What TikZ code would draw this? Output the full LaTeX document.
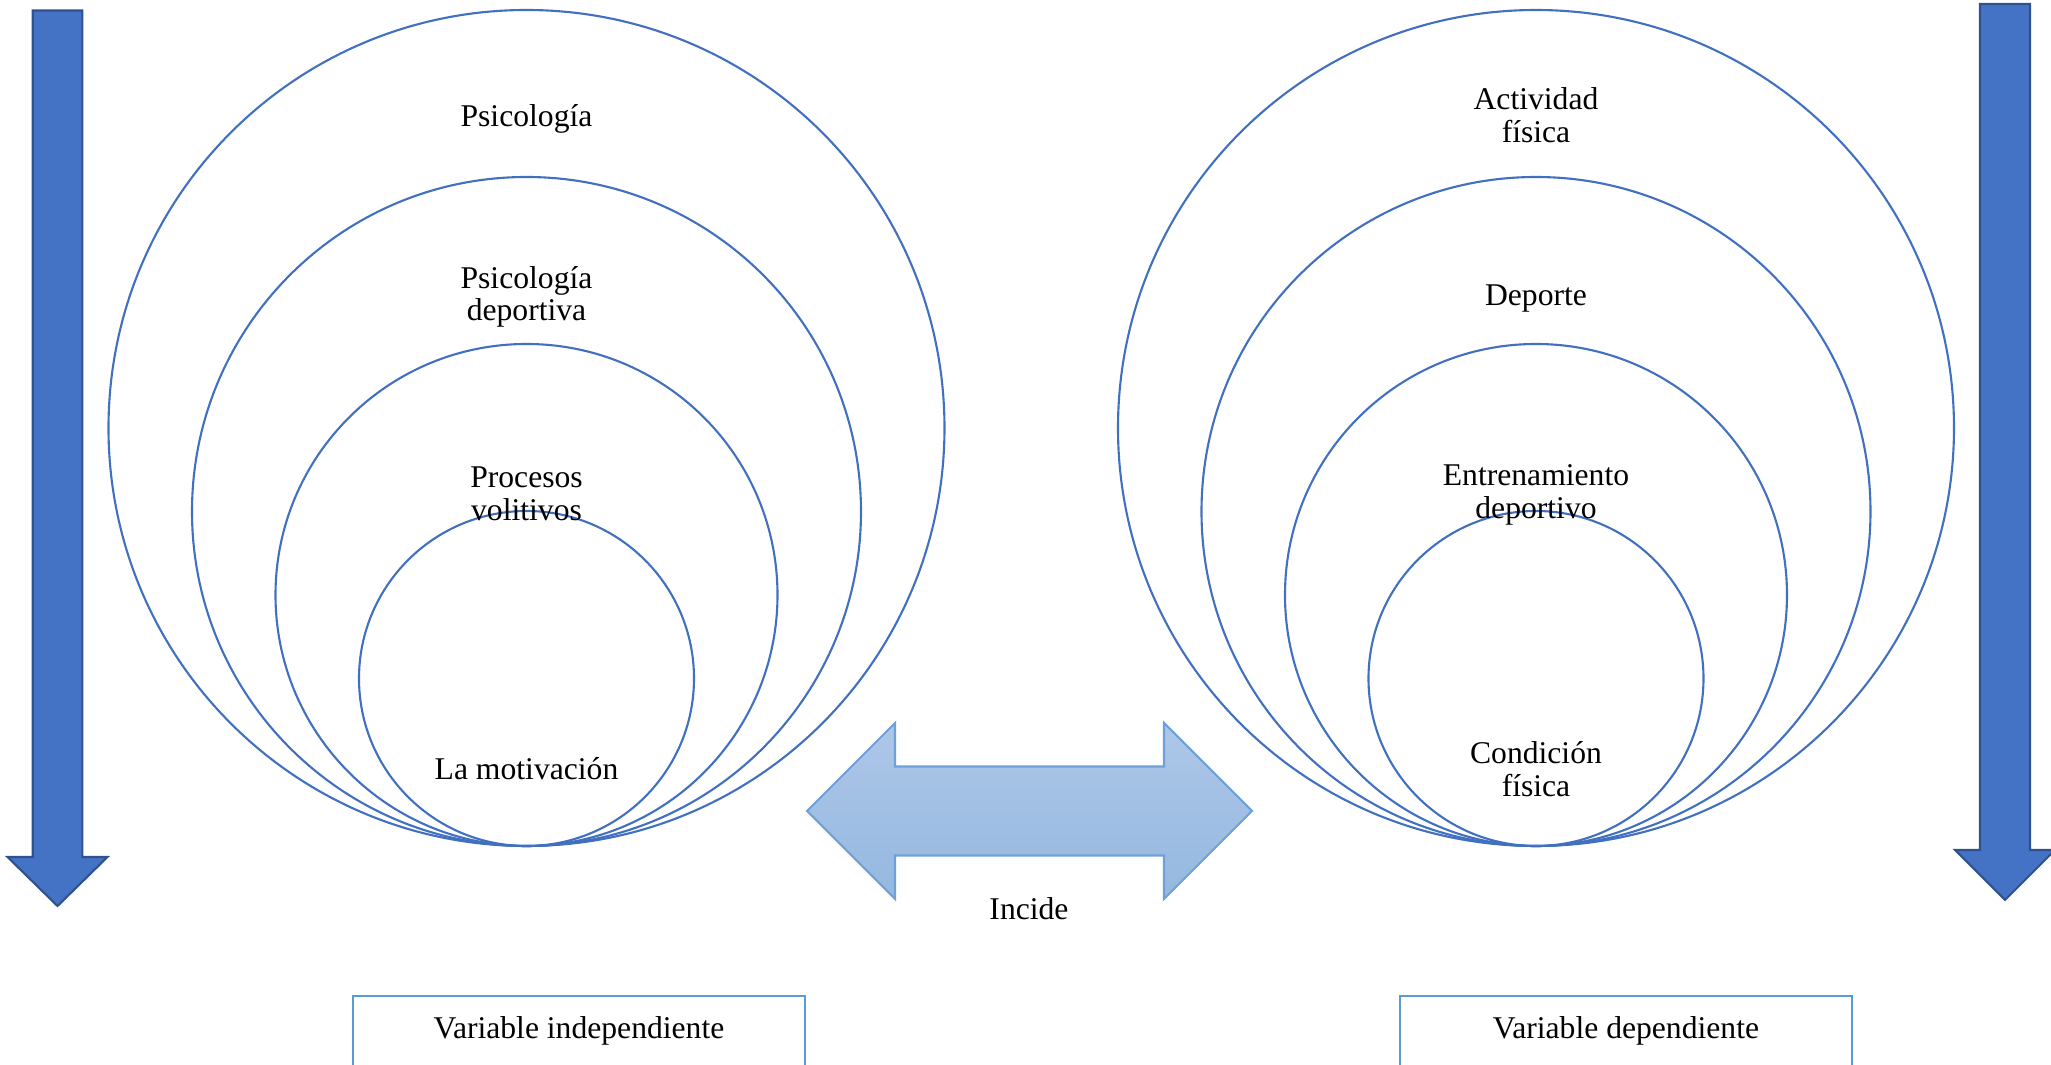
\documentclass[tikz,border=0pt]{standalone}
\usepackage{fontspec}
\setmainfont{Liberation Serif}
\definecolor{ringblue}{HTML}{4270C0}
\definecolor{fillblue}{HTML}{4472C4}
\definecolor{edgeblue}{HTML}{2F528F}
\definecolor{boxblue}{HTML}{5B9BD5}
\definecolor{lightedge}{HTML}{6FA0D8}
\definecolor{shadetop}{HTML}{ADC7E8}
\definecolor{shadebot}{HTML}{95B8E0}
\begin{document}
\begin{tikzpicture}[ring/.style={circle, draw=ringblue, line width=0.6pt, inner sep=0pt},
    lbl/.style={align=center, font=\fontsize{9}{9.3}\selectfont},
    downarrow/.style={fill=fillblue, draw=edgeblue, line width=0.6pt, line join=miter},
    bothways/.style={top color=shadetop, bottom color=shadebot, draw=lightedge, line width=0.6pt},
    varbox/.style={draw=boxblue, line width=0.7pt, minimum width=4.52cm, inner ysep=0pt, text height=0.42cm, text depth=0.6cm, lbl}]
    \useasboundingbox (0,0) rectangle (20.51,10.65);
    \clip (0,0) rectangle (20.51,10.65);
    % Left side: independent variable
    \node[ring, minimum size=8.36cm] (psi) at (5.265,6.37) {};
    \node[ring, minimum size=6.69cm] (psidep) at (5.265,5.535) {};
    \node[ring, minimum size=5.02cm] (proc) at (5.265,4.70) {};
    \node[ring, minimum size=3.35cm] (motiv) at (5.265,3.865) {};
    \node[lbl] (psitxt) at (5.265,9.46) {Psicología};
    \node[lbl] (psideptxt) at (5.265,7.68) {Psicología\\deportiva};
    \node[lbl] (proctxt) at (5.265,5.71) {Procesos\\volitivos};
    \node[lbl] (motivtxt) at (5.265,2.96) {La motivación};
    % Right side: dependent variable
    \node[ring, minimum size=8.36cm] (act) at (15.36,6.37) {};
    \node[ring, minimum size=6.69cm] (dep) at (15.36,5.535) {};
    \node[ring, minimum size=5.02cm] (entr) at (15.36,4.70) {};
    \node[ring, minimum size=3.35cm] (cond) at (15.36,3.865) {};
    \node[lbl] (acttxt) at (15.36,9.50) {Actividad\\física};
    \node[lbl] (deptxt) at (15.36,7.66) {Deporte};
    \node[lbl] (entrtxt) at (15.36,5.70) {Entrenamiento\\deportivo};
    \node[lbl] (condtxt) at (15.36,2.96) {Condición\\física};
    % Vertical arrows
    \draw[downarrow] (0.327,10.545) -- (0.824,10.545) -- (0.824,2.08) -- (1.075,2.08)
        -- (0.575,1.59) -- (0.075,2.08) -- (0.327,2.08) -- cycle;
    \draw[downarrow] (19.80,10.61) -- (20.30,10.61) -- (20.30,2.15) -- (20.55,2.15)
        -- (20.05,1.65) -- (19.55,2.15) -- (19.80,2.15) -- cycle;
    % Double arrow
    \draw[bothways] (8.07,2.54) -- (8.95,3.42) -- (8.95,2.985) -- (11.64,2.985) -- (11.64,3.42)
        -- (12.52,2.54) -- (11.64,1.66) -- (11.64,2.095) -- (8.95,2.095) -- (8.95,1.66) -- cycle;
    \node[lbl] (incide) at (10.29,1.56) {Incide};
    % Variable boxes
    \node[varbox, anchor=north] (indep) at (5.79,0.70) {Variable independiente};
    \node[varbox, anchor=north] (depend) at (16.26,0.70) {Variable dependiente};
\end{tikzpicture}
\end{document}
